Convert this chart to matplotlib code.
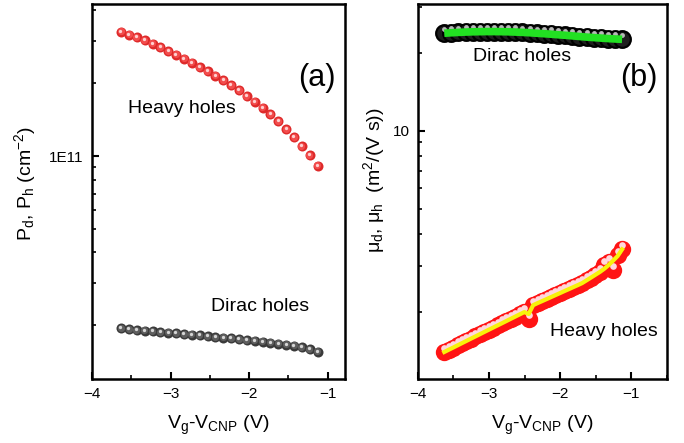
import matplotlib
matplotlib.use("Agg")
import matplotlib.pyplot as plt
from matplotlib.ticker import FixedLocator, NullFormatter, FixedFormatter, LogLocator, MultipleLocator
from matplotlib.transforms import offset_copy

plt.rcParams['font.family'] = ['Liberation Sans', 'DejaVu Sans']
plt.rcParams['mathtext.fontset'] = 'custom'
plt.rcParams['mathtext.rm'] = 'Liberation Sans'
plt.rcParams['mathtext.it'] = 'Liberation Sans:italic'
plt.rcParams['axes.unicode_minus'] = True

# ---------------- data ----------------
# panel (a): carrier densities (cm^-2)
vg_a = [-3.63, -3.53, -3.43, -3.33, -3.23, -3.13, -3.03, -2.93, -2.83, -2.73,
        -2.63, -2.53, -2.43, -2.33, -2.23, -2.13, -2.03, -1.93, -1.83, -1.73,
        -1.63, -1.53, -1.43, -1.33, -1.23, -1.13]
p_heavy = [3.263e11, 3.171e11, 3.094e11, 3.007e11, 2.911e11, 2.813e11, 2.716e11,
           2.622e11, 2.525e11, 2.430e11, 2.332e11, 2.239e11, 2.147e11, 2.055e11,
           1.960e11, 1.869e11, 1.770e11, 1.676e11, 1.583e11, 1.487e11, 1.391e11,
           1.289e11, 1.195e11, 1.100e11, 1.007e11, 0.912e11]
p_dirac = [1.941e10, 1.928e10, 1.910e10, 1.898e10, 1.886e10, 1.874e10, 1.862e10,
           1.850e10, 1.838e10, 1.827e10, 1.815e10, 1.804e10, 1.787e10, 1.776e10,
           1.765e10, 1.753e10, 1.737e10, 1.726e10, 1.709e10, 1.693e10, 1.677e10,
           1.661e10, 1.646e10, 1.625e10, 1.594e10, 1.554e10]

# panel (b): mobilities (m^2/(V s))
vg_b_dirac = vg_a
mu_dirac = [23.75, 23.85, 23.93, 24.00, 24.05, 24.08, 24.10, 24.10, 24.08, 24.05,
            24.00, 23.93, 23.85, 23.75, 23.65, 23.55, 23.43, 23.32, 23.20, 23.07,
            22.95, 22.85, 22.75, 22.65, 22.57, 22.50]

vg_b_heavy = [-3.63, -3.5675, -3.505, -3.4425, -3.38, -3.3175, -3.255, -3.1925,
              -3.13, -3.0675, -3.005, -2.9425, -2.88, -2.8175, -2.755, -2.6925,
              -2.63, -2.5675, -2.505, -2.4425, -2.38, -2.3175, -2.255, -2.1925,
              -2.13, -2.0675, -2.005, -1.9425, -1.88, -1.8175, -1.755, -1.6925,
              -1.63, -1.5675, -1.505, -1.4425, -1.38, -1.3175, -1.255, -1.1925, -1.13]
mu_heavy = [1.398, 1.426, 1.454, 1.483, 1.513, 1.543, 1.574, 1.605, 1.637, 1.670,
            1.703, 1.737, 1.771, 1.806, 1.842, 1.879, 1.916, 1.954, 1.993, 1.88,
            2.120, 2.159, 2.197, 2.236, 2.276, 2.317, 2.358, 2.401, 2.443, 2.487,
            2.531, 2.578, 2.642, 2.708, 2.777, 2.847, 3.030, 3.120, 2.900, 3.300, 3.500]
mu_heavy_fit = [1.398, 1.426, 1.454, 1.483, 1.513, 1.543, 1.574, 1.605, 1.637, 1.670,
                1.703, 1.737, 1.771, 1.806, 1.842, 1.879, 1.916, 1.954, 1.993, 1.960,
                2.120, 2.159, 2.197, 2.236, 2.276, 2.317, 2.358, 2.401, 2.443, 2.487,
                2.531, 2.578, 2.642, 2.708, 2.777, 2.847, 2.930, 3.030, 3.150, 3.280, 3.480]

xticks = [-4, -3, -2, -1]

# ---------------- figure ----------------
fig = plt.figure(figsize=(6.84, 4.43), dpi=100)
axA = fig.add_axes([0.1345, 0.1445, 0.370, 0.8465])
axB = fig.add_axes([0.611, 0.1445, 0.364, 0.8465])


def spheres(ax, x, y, base, mid, hi, ms, z=3):
    ax.plot(x, y, 'o', ms=ms, color=base, mew=0, zorder=z)
    t1 = offset_copy(ax.transData, fig=fig, x=-0.3, y=0.3, units='points')
    ax.plot(x, y, 'o', ms=ms * 0.72, color=mid, mew=0, transform=t1, zorder=z + 0.1)
    t2 = offset_copy(ax.transData, fig=fig, x=-0.45, y=0.75, units='points')
    ax.plot(x, y, 'o', ms=ms * 0.33, color=hi, mew=0, transform=t2, zorder=z + 0.2)


for ax in (axA, axB):
    for s in ax.spines.values():
        s.set_linewidth(1.8)
    ax.set_yscale('log')
    ax.xaxis.set_major_locator(FixedLocator(xticks))
    ax.xaxis.set_minor_locator(MultipleLocator(0.5))
    ax.tick_params(which='both', direction='in', top=False, right=False)
    ax.tick_params(which='major', length=5, width=1.5, labelsize=11, pad=6)
    ax.tick_params(which='minor', length=3, width=1.2)
    ax.set_xlabel(r'V$_\mathrm{g}$-V$_\mathrm{CNP}$ (V)', fontsize=14, labelpad=9)

# panel (a)
spheres(axA, vg_a, p_heavy, '#de2a2a', '#f24c4c', '#ffd0d0', 7.2)
spheres(axA, vg_a, p_dirac, '#3a3a3a', '#5e5e5e', '#d6d6d6', 7.2)
axA.set_xlim(-4, -0.78)
axA.set_ylim(1.2e10, 4.25e11)
axA.yaxis.set_major_locator(FixedLocator([1e11]))
axA.yaxis.set_major_formatter(FixedFormatter(['1E11']))
axA.yaxis.set_minor_locator(LogLocator(base=10, subs=range(2, 10)))
axA.yaxis.set_minor_formatter(NullFormatter())
axA.set_ylabel(r'P$_\mathrm{d}$, P$_\mathrm{h}$ (cm$^{-2}$)', fontsize=14)
axA.yaxis.set_label_coords(-0.213, 0.52)
axA.text(0.141, 0.72, 'Heavy holes', transform=axA.transAxes, fontsize=14, ha='left', va='center')
axA.text(0.470, 0.192, 'Dirac holes', transform=axA.transAxes, fontsize=14, ha='left', va='center')
axA.text(0.814, 0.803, '(a)', transform=axA.transAxes, fontsize=22, ha='left', va='center')

# panel (b)
axB.plot(vg_b_dirac, mu_dirac, 'o', ms=12, color='#1e1e1e', mec='black', mew=1.6, zorder=3)
tB = offset_copy(axB.transData, fig=fig, x=0, y=3.4, units='points')
axB.plot(vg_b_dirac, mu_dirac, 'o', ms=3.5, color='#b8b8b8', mew=0, transform=tB, zorder=3.1)
axB.plot(vg_b_dirac, mu_dirac, '-', lw=5.5, color='#22e022', solid_capstyle='butt', zorder=3.2)

axB.plot(vg_b_heavy, mu_heavy, 'o', ms=12.5, color='#ff1414', mew=0, zorder=3)
tH = offset_copy(axB.transData, fig=fig, x=0, y=2.8, units='points')
axB.plot(vg_b_heavy, mu_heavy, 'o', ms=4.8, color='#ffd8dc', mew=0, transform=tH, zorder=3.1)
axB.plot(vg_b_heavy, mu_heavy_fit, '-', lw=3, color='#f8f20a', zorder=3.2)

axB.set_xlim(-4, -0.5)
axB.set_ylim(1.10, 30.8)
axB.yaxis.set_major_locator(FixedLocator([10]))
axB.yaxis.set_major_formatter(FixedFormatter(['10']))
axB.yaxis.set_minor_locator(LogLocator(base=10, subs=range(2, 10)))
axB.yaxis.set_minor_formatter(NullFormatter())
axB.set_ylabel('μ$_\\mathrm{d}$, μ$_\\mathrm{h}$  (m$^2$/(V s))', fontsize=14)
axB.yaxis.set_label_coords(-0.125, 0.53)
axB.text(0.221, 0.859, 'Dirac holes', transform=axB.transAxes, fontsize=14, ha='left', va='center')
axB.text(0.811, 0.803, '(b)', transform=axB.transAxes, fontsize=22, ha='left', va='center')
axB.text(0.530, 0.126, 'Heavy holes', transform=axB.transAxes, fontsize=14, ha='left', va='center')

fig.savefig('out.png', dpi=100)
